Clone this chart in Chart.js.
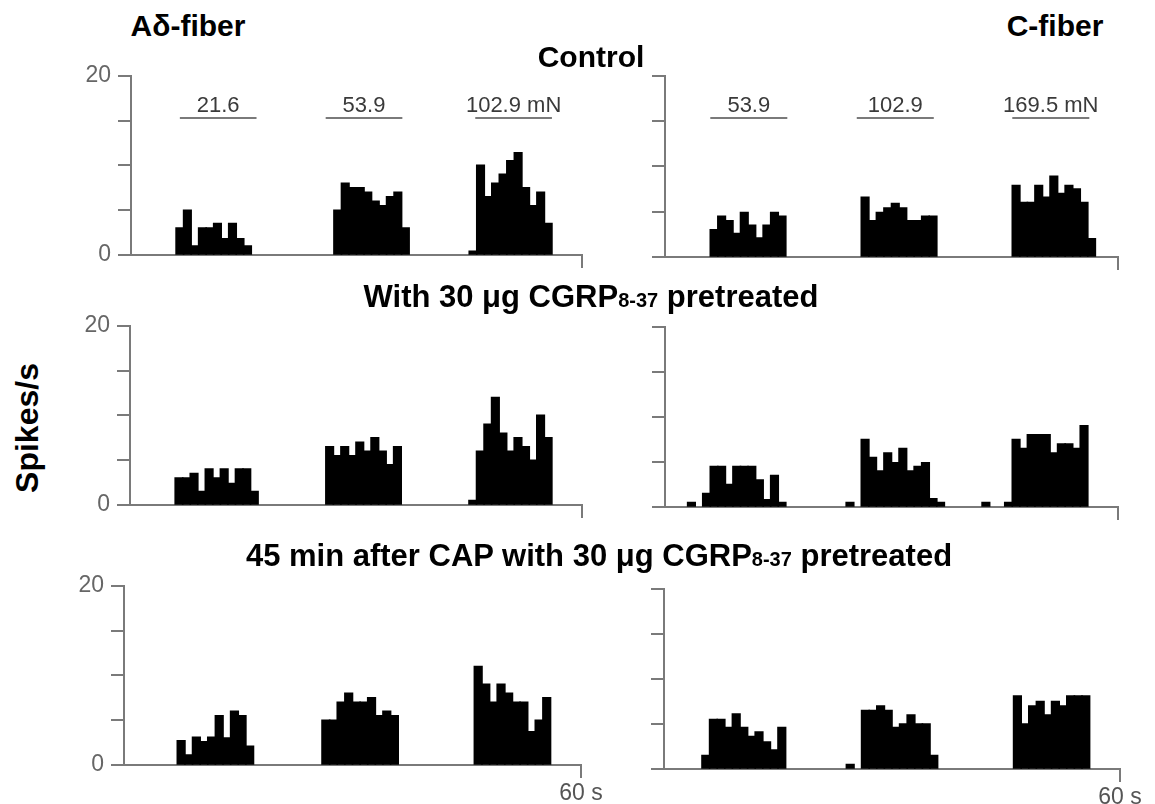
<!DOCTYPE html>
<html><head><meta charset="utf-8">
<script src="https://cdn.jsdelivr.net/npm/chart.js@4.4.0/dist/chart.umd.min.js"></script>
<style>
html,body{margin:0;padding:0;background:#fff;width:1155px;height:804px;overflow:hidden;}
#wrap{position:relative;width:1155px;height:804px;}
canvas{position:absolute;}
.t{position:absolute;font-family:"Liberation Sans",Arial,sans-serif;font-weight:bold;color:#000;white-space:nowrap;font-size:30px;line-height:30px;transform:translateX(-50%);z-index:2;}
.t.big{font-size:31px;}
.sub{font-size:20px;}
.ylab{position:absolute;font-family:"Liberation Sans",Arial,sans-serif;font-weight:bold;font-size:32px;line-height:32px;white-space:nowrap;left:27px;top:428px;transform:translate(-50%,-50%) rotate(-90deg);}
</style></head><body><div id="wrap">
<div class="t" style="left:188px;top:11px">Aδ-fiber</div>
<div class="t" style="left:1055px;top:11px">C-fiber</div>
<div class="t" style="left:591px;top:42px">Control</div>
<div class="t big" style="left:591px;top:282px">With 30 μg CGRP<span class="sub">8-37</span> pretreated</div>
<div class="t big" style="left:599px;top:541px">45 min after CAP with 30 μg CGRP<span class="sub">8-37</span> pretreated</div>
<div class="ylab">Spikes/s</div>
</div>
<script>
// ---- data ----
const binSeconds = Array.from({length: 60}, (_, i) => i); // 1-s bins, 0..59 s
const aFiberControl = [0,0,0,0,0,0,3,5,1,3,
  3,3.5,1.8,3.5,1.8,1,0,0,0,0,
  0,0,0,0,0,0,0,5,8,7.5,
  7.5,7,6,5.5,6.5,7,3,0,0,0,
  0,0,0,0,0,0.4,10,6.5,8,9,
  10.5,11.4,7.5,5.5,7,3.5,0,0,0,0];
const cFiberControl = [0,0,0,0,0,0,3,4.5,4,2.6,
  4.9,3.5,2.1,3.5,4.9,4.5,0,0,0,0,
  0,0,0,0,0,0,6.6,4,4.9,5.4,
  5.9,5.4,4,4,4.5,4.5,0,0,0,0,
  0,0,0,0,0,0,7.9,6,6,7.9,
  6.6,8.9,7,7.9,7.5,6,2,0,0,0];
const aFiberCgrp = [0,0,0,0,0,0,3,3,3.5,1.5,
  4,3,4,2.4,4,4,1.5,0,0,0,
  0,0,0,0,0,0,6.5,5.5,6.5,5.5,
  7,6,7.5,6,4.5,6.5,0,0,0,0,
  0,0,0,0,0,0.5,6,9,12,8,
  6,7.5,6.5,5,10,7.5,0,0,0,0];
const cFiberCgrp = [0,0,0,0.5,0,1.5,4.5,4.5,2.5,4.5,
  4.5,4.5,3,0.8,3.5,0.5,0,0,0,0,
  0,0,0,0,0.5,0,7.5,5.5,4,6,
  4.9,6.5,4,4.5,4.9,0.9,0.5,0,0,0,
  0,0,0.5,0,0,0.5,7.5,6.5,8,8,
  8,6,7,7,6.5,9,0,0,0,0];
const aFiberCapCgrp = [0,0,0,0,0,0,0,2.7,1.1,3.1,
  2.6,3.1,5.5,3,6,5.5,2.1,0,0,0,
  0,0,0,0,0,0,5,5,7,8,
  7,7,7.5,5.5,6,5.5,0,0,0,0,
  0,0,0,0,0,0,11,9,7,9,
  8,7,7,3.7,5,7.5,0,0,0,0];
const cFiberCapCgrp = [0,0,0,0,0,1.5,5.5,5.5,4.6,6.1,
  4.6,3.6,4.1,3,2.1,4.6,0,0,0,0,
  0,0,0,0,0.5,0,6.5,6.5,7,6.5,
  4.6,5,6,5,5,1.5,0,0,0,0,
  0,0,0,0,0,0,8.1,5,7,7.5,
  6,7.5,7,8.1,8.1,8.1,0,0,0,0];
const aFiberForces = ['21.6', '53.9', '102.9 mN'];
const cFiberForces = ['53.9', '102.9', '169.5 mN'];
const aFiberStimStart = [6.5, 25.9, 45.8];
const cFiberStimStart = [6.0, 25.4, 46.0];
const stimDuration = 10.2;
const stimLevel = 15.3;
const yTickLabels = [0, 20];
const xEndLabel = '60 s';

// ---- style / layout ----
const FONT = '"Liberation Sans", Arial, sans-serif';
const AX = '#7a7a7a';
const PAD_L = 70, PAD_R = 32, PAD_T = 20, PAD_B = 40;
const wrap = document.getElementById('wrap');

const stimPlugin = {
  id: 'stim',
  afterDatasetsDraw(chart, args, o) {
    if (!o || !o.starts) return;
    const {ctx, scales: {x, y}} = chart;
    ctx.save();
    o.starts.forEach((s, i) => {
      const x1 = x.getPixelForValue(s), x2 = x.getPixelForValue(s + o.duration);
      const yy = Math.round(y.getPixelForValue(o.level));
      ctx.strokeStyle = AX; ctx.lineWidth = 2;
      ctx.beginPath(); ctx.moveTo(x1, yy); ctx.lineTo(x2, yy); ctx.stroke();
      ctx.fillStyle = '#3a3a3a';
      ctx.font = '22px ' + FONT;
      ctx.textAlign = 'center'; ctx.textBaseline = 'alphabetic';
      ctx.fillText(o.labels[i], (x1 + x2) / 2, yy - 6);
    });
    ctx.restore();
  }
};

function makePanel(area, values, opt) {
  const c = document.createElement('canvas');
  const W = area.r - area.l + PAD_L + PAD_R, H = area.b - area.t + PAD_T + PAD_B;
  c.width = W; c.height = H;
  c.style.left = (area.l - PAD_L) + 'px'; c.style.top = (area.t - PAD_T) + 'px';
  c.style.width = W + 'px'; c.style.height = H + 'px';
  wrap.appendChild(c);
  new Chart(c, {
    type: 'bar',
    data: {datasets: [{
      data: binSeconds.map((s, i) => ({x: s + 0.5, y: values[i] ? values[i] : null})),
      backgroundColor: '#000', borderWidth: 0, inflateAmount: 0.8,
      barPercentage: 1, categoryPercentage: 1
    }]},
    options: {
      responsive: false, animation: false, events: [],
      layout: {padding: {top: PAD_T, right: PAD_R, left: 0, bottom: 0}},
      plugins: {legend: {display: false}, tooltip: {enabled: false},
        stim: opt.stim ? opt.stim : false},
      scales: {
        x: {type: 'linear', min: 0, max: 60, offset: false,
          grid: {offset: false, drawOnChartArea: false, tickLength: 13, lineWidth: 2,
            color: ctx => (ctx.tick && ctx.tick.value === 60) ? AX : 'rgba(0,0,0,0)'},
          border: {color: AX, width: 2},
          ticks: {stepSize: 60, autoSkip: false, maxRotation: 0, padding: 2, color: '#555',
            font: {size: 23, family: FONT},
            callback: v => (opt.secLabel && v === 60) ? xEndLabel : ''},
          afterFit: s => { s.height = PAD_B; }},
        y: {min: 0, max: 20,
          grid: {drawOnChartArea: false, tickLength: 13, lineWidth: 2, color: AX},
          border: {color: AX, width: 2},
          ticks: {stepSize: 5, padding: 7, color: '#666', font: {size: 23, family: FONT},
            callback: v => (opt.yLabels && yTickLabels.includes(v)) ? String(v) : ''},
          afterFit: s => { s.width = PAD_L; }}
      }
    },
    plugins: [stimPlugin]
  });
}

const stimA = {starts: aFiberStimStart, duration: stimDuration, level: stimLevel, labels: aFiberForces};
const stimC = {starts: cFiberStimStart, duration: stimDuration, level: stimLevel, labels: cFiberForces};

makePanel({l: 131, t: 75, r: 582, b: 255}, aFiberControl, {yLabels: true, stim: stimA});
makePanel({l: 665, t: 75, r: 1118, b: 257}, cFiberControl, {yLabels: false, stim: stimC});
makePanel({l: 130, t: 325, r: 582, b: 505}, aFiberCgrp, {yLabels: true});
makePanel({l: 665, t: 326, r: 1118, b: 507}, cFiberCgrp, {yLabels: false});
makePanel({l: 124, t: 585, r: 581, b: 765}, aFiberCapCgrp, {yLabels: true, secLabel: true});
makePanel({l: 664, t: 588, r: 1120, b: 769}, cFiberCapCgrp, {yLabels: false, secLabel: true});
</script>
</body></html>
